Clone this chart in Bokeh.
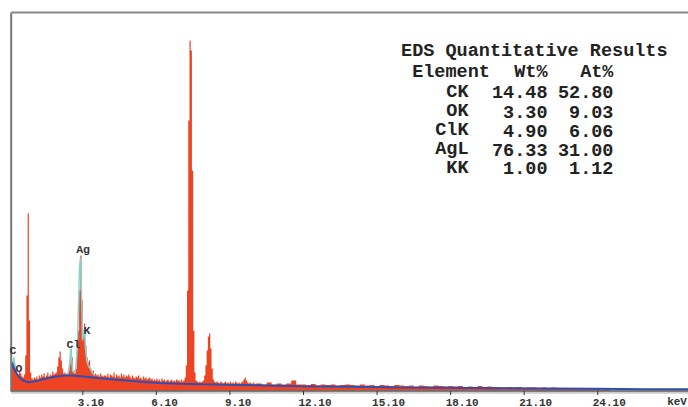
import numpy as np
from bokeh.plotting import figure
from bokeh.models import Range1d, Label
from bokeh.core.properties import value
from bokeh.embed import file_html
from bokeh.resources import INLINE

# ---------------- data ----------------
# red spectrum, fine channels (0.05 keV) from 0.20 keV
fine_start = 0.20
fine_width = 0.05
fine_counts = [
    270, 290, 250, 200, 170, 160, 200, 170, 140, 130, 160, 350, 950, 1770, 700, 180,
    120, 110, 130, 120, 140, 110, 150, 130, 160, 140, 170, 130, 150, 180, 140, 160, 150, 190, 160, 170,
    180, 240, 330, 390, 300, 220, 170, 180, 160, 170, 190, 260, 410, 330, 190, 170, 220, 400, 600, 1000,
    1350, 900, 550, 670, 450, 330, 280, 300, 220, 190, 200, 160, 170, 150, 160, 140, 170, 150, 140, 150,
    150, 140, 170, 130, 160, 150, 140, 180, 130, 160, 140, 150, 130, 170, 140, 160, 130, 150, 140, 160,
    140, 120, 150, 130, 120, 140, 130, 150, 120, 130, 110, 140, 120, 130, 110, 120, 130, 110, 120, 100,
    110, 100, 120, 100, 110, 90, 120, 100, 110, 90, 100, 110, 90, 100, 110, 90, 100, 90, 110, 100,
    100, 90, 110, 90, 100, 130, 250, 1000, 2700, 3500, 3400, 2200, 600, 180, 100, 90, 80, 90, 80, 90,
    100, 150, 250, 400, 540, 570, 420, 220, 110, 90, 80, 90, 80, 70, 90, 80, 70, 80, 90, 70,
    80, 70, 90, 70, 80, 70, 90, 80, 70, 80, 70, 80, 90, 110, 130, 100, 80, 70, 80, 70,
    70, 80, 60, 70,
]
# red spectrum, coarse channels (0.2 keV) from 10.20 keV
coarse_start = 10.20
coarse_width = 0.20
coarse_counts = [
    70, 60, 80, 60, 70, 60, 70, 100, 60,
    60, 55, 65, 50, 60, 55, 60, 50, 55, 60,
    55, 50, 60, 50, 55, 45, 55, 50, 45, 55,
    50, 45, 50, 40, 50, 45, 40, 50, 45, 40,
    45, 40, 45, 35, 40, 35, 45, 35, 40, 35,
    35, 30, 35, 30, 35, 25, 30, 30, 25, 30,
    25, 30, 20, 25, 20, 25, 20, 15, 20, 15,
    15, 10, 15,
]

# blue background fit
bg_energy = [0.19, 0.3, 0.4, 0.5, 0.6, 0.7, 0.8, 0.9, 1.0, 1.2, 1.4, 1.6, 1.8, 2.0, 2.2, 2.4,
             2.6, 2.8, 3.0, 3.4, 3.8, 4.4, 5.0, 5.6, 6.2, 7.0, 8.0, 9.0, 10.0, 12.0, 14.0,
             16.0, 18.0, 20.0, 22.0, 24.0, 26.0, 27.8]
bg_counts = [280, 220, 170, 135, 112, 97, 88, 82, 84, 95, 108, 120, 130, 140, 146, 150,
             150, 147, 143, 133, 122, 110, 98, 86, 74, 68, 62, 57, 52, 43, 37,
             31, 27, 23, 20, 17, 13, 13]

# teal fitted peaks
teal1_energy = [0.19, 0.25, 0.29, 0.33, 0.38, 0.45]
teal1_counts = [240, 280, 330, 260, 190, 150]
teal2_energy = [2.40, 2.50, 2.56, 2.61, 2.64, 2.68, 2.74, 2.82, 2.88, 2.93, 2.97, 3.01,
                3.05, 3.09, 3.13, 3.17, 3.21, 3.26, 3.32, 3.40, 3.50, 3.60]
teal2_counts = [160, 170, 260, 420, 350, 200, 180, 220, 450, 900, 1250, 1330,
                950, 500, 560, 620, 420, 300, 250, 220, 170, 150]

# peak labels
peak_names = ["C", "O", "Cl", "Ag", "K"]
peak_label_energy = [0.25, 0.50, 2.72, 3.11, 3.27]
peak_label_counts = [400, 220, 465, 1415, 605]

# x ticks
tick_values = [3.1, 6.1, 9.1, 12.1, 15.1, 18.1, 21.1, 24.1]
tick_labels = ["3.10", "6.10", "9.10", "12.10", "15.10", "18.10", "21.10", "24.10"]
axis_unit = "keV"

# quantitative table
table_title = "EDS Quantitative Results"
table_header = ["Element", "Wt%", "At%"]
elements = ["CK", "OK", "ClK", "AgL", "KK"]
wt_pct = ["14.48", "3.30", "4.90", "76.33", "1.00"]
at_pct = ["52.80", "9.03", "6.06", "31.00", "1.12"]

# ---------------- figure ----------------
FONT = "Liberation Mono"
X0, X1 = 0.18, 27.8        # plotted energy window
YTOP = 3780                # top of the spectrum box
p = figure(width=688, height=407, x_range=Range1d(-0.256, 27.80), y_range=Range1d(-170, 3900),
           output_backend="svg", toolbar_location=None,
           x_axis_location=None, y_axis_location=None,
           min_border_left=0, min_border_right=0, min_border_top=0, min_border_bottom=0)
p.outline_line_color = None
p.xgrid.visible = False
p.ygrid.visible = False
p.background_fill_color = "white"
p.border_fill_color = "white"

# spectrum as step area
lefts = [fine_start + fine_width * i for i in range(len(fine_counts))] + \
        [coarse_start + coarse_width * j for j in range(len(coarse_counts))]
counts = fine_counts + coarse_counts
rights = lefts[1:] + [coarse_start + coarse_width * len(coarse_counts)]
xs = np.column_stack([lefts, rights]).ravel()
ys = np.repeat(counts, 2)
p.varea(x=xs, y1=np.zeros_like(ys), y2=ys, fill_color="#ef4423")

p.line(teal1_energy, teal1_counts, line_color="#86d3d3", line_width=1.5)
p.line(teal2_energy, teal2_counts, line_color="#86d3d3", line_width=1.5)
p.line(bg_energy, bg_counts, line_color="#2c4fb3", line_width=2)

# frame lines (left, top) and x axis
p.segment(x0=[X0], y0=[-10], x1=[X0], y1=[YTOP], line_color="#777777", line_width=2)
p.segment(x0=[X0], y0=[YTOP], x1=[X1], y1=[YTOP], line_color="#888888", line_width=2)
p.segment(x0=[X0], y0=[-22], x1=[X1], y1=[-22], line_color="#cccccc", line_width=2)
p.segment(x0=[X0], y0=[-6], x1=[X1], y1=[-6], line_color="#555555", line_width=1.5)
p.segment(x0=tick_values, y0=[-6] * len(tick_values), x1=tick_values, y1=[-45] * len(tick_values),
          line_color="#333333", line_width=1)

p.text(x=tick_values, y=[-115] * len(tick_values), text=tick_labels, x_offset=-5,
       text_align="left", text_baseline="middle", text_font=value(FONT),
       text_font_size="11px", text_font_style="bold", text_color="#333333")
p.add_layout(Label(x=26.93, y=-115, text=axis_unit, text_align="left", text_baseline="middle",
                   text_font=FONT, text_font_size="11px", text_font_style="bold",
                   text_color="#333333"))

p.text(x=peak_label_energy, y=peak_label_counts, text=peak_names, text_align="center",
       text_baseline="middle", text_font=value(FONT), text_font_size="11.5px",
       text_font_style="bold", text_color="#333333")

# table
TS = "18.5px"
def tlabel(x, y, t, align):
    p.add_layout(Label(x=x, y=y, text=t, text_align=align, text_baseline="middle",
                       text_font=FONT, text_font_size=TS, text_font_style="bold",
                       text_color="#222222"))

tlabel(16.08, 3390, table_title, "left")
tlabel(16.53, 3183, table_header[0], "left")
tlabel(22.05, 3183, table_header[1], "right")
tlabel(24.74, 3183, table_header[2], "right")
row_y = [2983, 2790, 2600, 2407, 2223]
for ry, el, w, a in zip(row_y, elements, wt_pct, at_pct):
    tlabel(18.83, ry, el, "right")
    tlabel(22.05, ry, w, "right")
    tlabel(24.74, ry, a, "right")

open("out.html", "w").write(file_html(p, INLINE))
